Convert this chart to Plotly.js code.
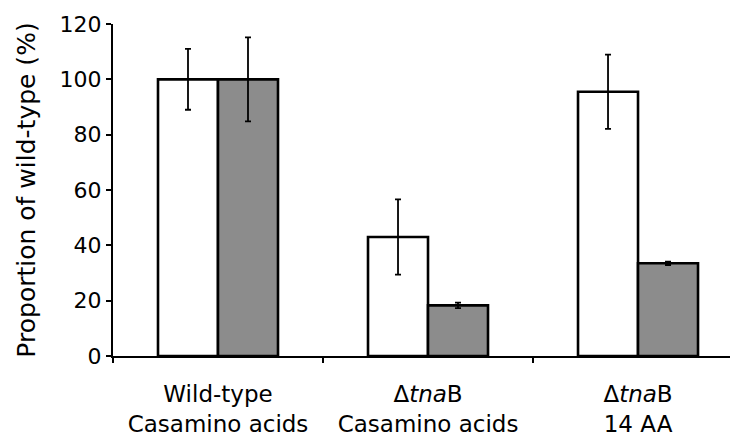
<!DOCTYPE html>
<html>
<head>
<meta charset="utf-8">
<script src="https://cdn.plot.ly/plotly-3.0.1.min.js"></script>
<style>
  html, body { margin: 0; padding: 0; background: #fff; overflow: hidden; }
  #chart { width: 730px; height: 438px; }
</style>
</head>
<body>
<div id="chart"></div>
<script>
// Categories (tick labels)
const categories = [
  'Wild-type<br>Casamino acids',
  'Δ<i>tna</i>B<br>Casamino acids',
  'Δ<i>tna</i>B<br>14 AA'
];
// Series 1: open (white) bars
const whiteValues = [100, 43, 95.5];
const whiteErrors = [11, 13.6, 13.4];
// Series 2: shaded (grey) bars
const greyValues = [100, 18.3, 33.5];
const greyErrors = [15.2, 1, 0.6];

const yTitle = 'Proportion of wild-type (%)';
const FONT = 'DejaVu Sans, Liberation Sans, Arial, sans-serif';

const errStyle = { type: 'data', visible: true, color: '#000', thickness: 1.8, width: 3 };

const traces = [
  {
    type: 'bar', x: categories, y: whiteValues,
    marker: { color: '#ffffff', line: { color: '#000', width: 2.6 } },
    error_y: Object.assign({ array: whiteErrors }, errStyle),
    hoverinfo: 'none'
  },
  {
    type: 'bar', x: categories, y: greyValues,
    marker: { color: '#8c8c8c', line: { color: '#000', width: 2.6 } },
    error_y: Object.assign({ array: greyErrors }, errStyle),
    hoverinfo: 'none'
  }
];

const layout = {
  width: 730, height: 438,
  margin: { l: 113, r: 0, t: 24, b: 82, pad: 0 },
  paper_bgcolor: '#fff', plot_bgcolor: '#fff',
  showlegend: false,
  barmode: 'group', bargap: 0.4286, bargroupgap: 0,
  font: { family: FONT, color: '#000' },
  xaxis: {
    type: 'category',
    range: [-0.5, 2.438],
    showline: true, linecolor: '#000', linewidth: 2,
    ticks: 'outside', tickson: 'boundaries', ticklen: 5, tickwidth: 2, tickcolor: '#000',
    ticklabelstandoff: 16,
    showgrid: false, zeroline: false,
    tickfont: { family: FONT, size: 23, color: '#000' },
    automargin: false
  },
  yaxis: {
    range: [0, 120], dtick: 20, tick0: 0,
    showline: true, linecolor: '#000', linewidth: 2,
    ticks: 'outside', ticklen: 5, tickwidth: 2, tickcolor: '#000',
    showgrid: false, zeroline: false,
    tickfont: { family: FONT, size: 22, color: '#000' },
    title: { text: yTitle, font: { family: FONT, size: 25, color: '#000' }, standoff: 17 },
    automargin: false
  }
};

Plotly.newPlot('chart', traces, layout, { staticPlot: true, displayModeBar: false });
</script>
</body>
</html>
